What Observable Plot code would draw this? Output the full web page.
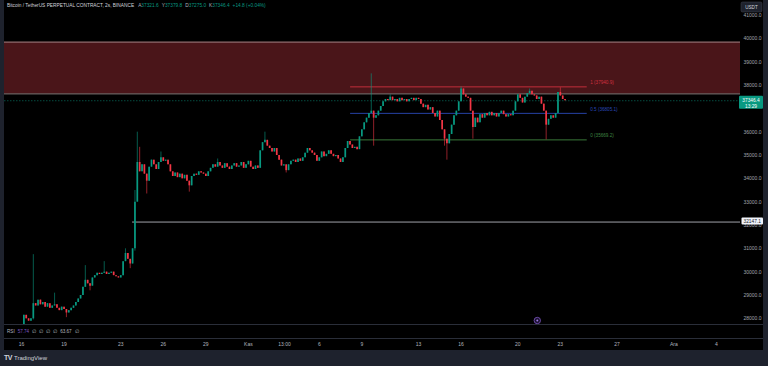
<!DOCTYPE html>
<html><head><meta charset="utf-8">
<script src="https://cdn.jsdelivr.net/npm/d3@7"></script>
<script src="https://cdn.jsdelivr.net/npm/@observablehq/plot@0.6"></script>
<style>
html,body{margin:0;padding:0;background:#1e222d;width:768px;height:366px;overflow:hidden;font-family:"Liberation Sans",Arial,sans-serif;}
#wrap{position:absolute;left:4px;top:0;}
#foot{position:absolute;left:4px;top:350px;height:16px;line-height:16px;color:#d1d4dc;font-size:6px;white-space:nowrap;}
#foot b{font-size:7px;letter-spacing:-0.5px;margin-right:2px;}
</style></head><body>
<div id="wrap"></div>
<div id="foot"><b>TV</b>TradingView</div>
<script>
// ---- data (2h chart shown, values read at 4h steps) ----
const symbolTitle = "Bitcoin / TetherUS PERPETUAL CONTRACT, 2s, BINANCE";
const ohlcLabels = ["A", "Y", "D", "K"];
const ohlcValues = ["37321.6", "37379.8", "37275.0", "37346.4"];
const changeText = "+14.8 (+0.04%)";
const firstOpen = 27700;
const closes = [
28150, 28000, 27900, 28000, 28650,
28550, 28800, 28600, 28700, 28500,
28650, 28450, 28550, 28600, 28450,
28350, 28500, 28400, 28250, 28350,
28450, 28550, 28700, 28850, 29000,
29350, 29650, 29500, 29400, 29750,
29850, 29950, 29900, 29950, 30000,
29900, 29950, 30000, 29850, 29800,
29750, 29850, 30450, 30800, 30550,
30350, 31000, 33000, 34700, 34300,
34600, 34200, 33900, 34500, 34800,
34600, 34400, 34700, 34900, 34750,
34800, 34600, 34300, 34100, 34250,
34050, 34200, 34000, 34150, 33900,
33700, 34100, 34200, 34150, 34300,
34250, 34200, 34100, 34300, 34450,
34600, 34500, 34700, 34550, 34450,
34650, 34500, 34400, 34550, 34650,
34500, 34550, 34700, 34450, 34600,
34750, 34500, 34400, 34550, 34450,
35200, 35550, 35650, 35400, 35300,
35150, 35300, 35000, 34800, 34550,
34600, 34350, 34600, 34750, 34800,
34700, 34850, 34750, 34900, 35100,
35300, 35200, 35100, 35000, 34750,
34900, 35150, 34950, 35050, 35200,
35050, 34950, 35000, 34850, 34700,
34900, 35300, 35600, 35450, 35300,
35350, 35250, 35800, 36100, 36400,
36600, 36800, 36900, 36600, 36700,
36900, 37100, 37300, 37400, 37350,
37500, 37350, 37400, 37300, 37450,
37350, 37400, 37300, 37400, 37450,
37350, 37450, 37400, 37200, 37050,
37150, 36950, 37050, 36800, 36650,
36900, 36500, 36100, 35700, 35500,
35900, 36300, 36700, 36900, 37300,
37850, 37600, 37500, 37450, 36900,
36200, 36600, 36400, 36750, 36600,
36800, 36700, 36850, 36700, 36800,
36650, 36800, 36900, 36750, 36650,
36750, 36700, 36900, 37300, 37600,
37450, 37250, 37500, 37650, 37750,
37600, 37550, 37400, 37500, 37200,
36900, 36300, 36550, 36700, 36600,
36800, 37700, 37550, 37400, 37346.4
];
// notable wicks: candle index, high, low (null = body edge)
const wickIdx  = [4,     13,    18,    26,    28,    34,    43,    45,    47,    48,    49,    52,    58,    70,    82,    102,   111,   147,   148,   155,   178,   179,   185,     190,   214,   221,     227];
const wickHigh = [30750, 29100, null,  30280, null,  30450, 31000, null,  33500, 36000, 35350, null,  35150, null,  34850, 36000, null,  38500, null,  37600, null,  null,  37940.9, null,  37850, null,    37900];
const wickLow  = [27950, null,  28050, null,  29200, null,  null,  30150, 30900, null,  null,  33350, null,  33430, null,  null,  34250, null,  35400, null,  35400, 34800, null,    35700, null,  35669.2, null];

const zoneLow = 37640, zoneHigh = 39860;
const fibLevels = [1, 0.5, 0];
const fibPrices = [37940.9, 36805.1, 35669.2];
const fibColors = ["#d0303f", "#2a48b8", "#3e8540"];
const fibStart = Date.UTC(2023, 10, 8, 5);
const fibEnd = Date.UTC(2023, 10, 24, 21, 30);
const supportPrice = 32147.1;
const supportStart = Date.UTC(2023, 9, 23, 20);
const lastPrice = 37346.4;
const countdown = "13:29";
const eventDates = [Date.UTC(2023, 10, 21, 9)];

// 37000.0 sits fully under the last-price label in the reference
const yTicks = [28000, 29000, 30000, 31000, 32000, 33000, 34000, 35000, 36000, 38000, 39000, 40000, 41000];
const xTickDates = [
  Date.UTC(2023, 9, 16), Date.UTC(2023, 9, 19), Date.UTC(2023, 9, 23), Date.UTC(2023, 9, 26), Date.UTC(2023, 9, 29),
  Date.UTC(2023, 10, 1), Date.UTC(2023, 10, 3, 13), Date.UTC(2023, 10, 6), Date.UTC(2023, 10, 9), Date.UTC(2023, 10, 13),
  Date.UTC(2023, 10, 16), Date.UTC(2023, 10, 20), Date.UTC(2023, 10, 23), Date.UTC(2023, 10, 27), Date.UTC(2023, 11, 1),
  Date.UTC(2023, 11, 4)];
const xTickLabels = ["16", "19", "23", "26", "29", "Kas", "13:00", "6", "9", "13", "16", "20", "23", "27", "Ara", "4"];
const rsiName = "RSI", rsiValue = "57.74", rsiRest = ["∅", "∅", "∅", "∅", "63.67", "∅"];

// ---- build ----
const UP = "#089981", DOWN = "#f23645";
const t0 = Date.UTC(2023, 9, 16, 4), step = 4 * 3600e3;
const candles = closes.map((c, i) => {
  const o = i ? closes[i - 1] : firstOpen;
  const k = wickIdx.indexOf(i);
  const hi = k >= 0 && wickHigh[k] != null ? wickHigh[k] : Math.max(o, c);
  const lo = k >= 0 && wickLow[k] != null ? wickLow[k] : Math.min(o, c);
  return {date: new Date(t0 + i * step), open: o, close: c, high: hi, low: lo, col: c >= o ? UP : DOWN};
});
const fib = fibLevels.map((l, i) => ({level: l, price: fibPrices[i], color: fibColors[i], start: new Date(fibStart), end: new Date(fibEnd)}));
const xDomain = [new Date(Date.UTC(2023, 9, 14, 19, 13)), new Date(Date.UTC(2023, 11, 5, 16, 55))];
const labelMap = new Map(xTickDates.map((d, i) => [d, xTickLabels[i]]));

const chart = Plot.plot({
  width: 759, height: 350,
  marginLeft: 0, marginRight: 23, marginTop: 0, marginBottom: 26,
  style: {background: "#000", color: "#b2b5be", fontFamily: "Liberation Sans, Arial, sans-serif", fontSize: "5px", overflow: "visible"},
  x: {type: "utc", domain: xDomain},
  y: {domain: [27756, 41643]},
  marks: [
    Plot.rect([{lo: zoneLow, hi: zoneHigh}], {y1: "lo", y2: "hi", fill: "#4a1519"}),
    Plot.ruleY([zoneLow, zoneHigh], {stroke: "#d8c8c8", strokeOpacity: 0.75, strokeWidth: 0.8}),
    Plot.ruleY([lastPrice], {stroke: UP, strokeOpacity: 0.7, strokeDasharray: "1.5,1.5", strokeWidth: 0.7}),
    Plot.ruleY([{p: supportPrice, s: new Date(supportStart), e: xDomain[1]}], {y: "p", x1: "s", x2: "e", stroke: "#c9ccd4", strokeWidth: 0.8}),
    Plot.ruleY(fib, {y: "price", x1: "start", x2: "end", stroke: "color", strokeWidth: 0.9}),
    Plot.text(fib, {x: "end", y: "price", text: d => `${d.level} (${d.price.toFixed(1)})`, fill: "color", textAnchor: "start", dx: 3, dy: -4, fontSize: 4.6}),
    Plot.ruleX(candles, {x: "date", y1: "low", y2: "high", stroke: "col", strokeWidth: 0.6, clip: true}),
    Plot.ruleX(candles, {x: "date", y1: "open", y2: "close", stroke: "col", strokeWidth: 1.7, clip: true}),
    Plot.dot(eventDates.map(d => new Date(d)), {x: d => d, frameAnchor: "bottom", dy: -4, r: 3.2, stroke: "#7e57c2", strokeWidth: 0.8, fill: "#1a1030"}),
    Plot.dot(eventDates.map(d => new Date(d)), {x: d => d, frameAnchor: "bottom", dy: -4, r: 1, fill: "#9c7ae0"}),
    Plot.axisY({anchor: "right", ticks: yTicks, tickSize: 0, tickPadding: 3, tickFormat: d => d.toFixed(1), fontSize: 5, color: "#a3a6af"}),
    Plot.axisX({anchor: "bottom", ticks: xTickDates.map(d => new Date(d)), tickSize: 0, tickPadding: 18, tickFormat: d => labelMap.get(+d), fontSize: 5, color: "#b2b5be"})
  ]
});
document.getElementById("wrap").appendChild(chart);

// ---- overlays drawn with the chart's own y scale ----
const svg = d3.select(chart);
const ys = chart.scale("y");
const W = 759;
// pane separators
[324, 338].forEach(yy => svg.append("line").attr("x1", 0).attr("x2", W).attr("y1", yy + 0.5).attr("y2", yy + 0.5).attr("stroke", "#2a2e39").attr("stroke-width", 1));
// title
const tt = svg.append("text").attr("x", 3).attr("y", 7).attr("text-anchor", "start").attr("font-size", 4.8).attr("fill", "#d1d4dc");
tt.append("tspan").text(symbolTitle);
ohlcLabels.forEach((l, i) => {
  tt.append("tspan").attr("dx", i ? 3 : 4).attr("fill", "#b2b5be").text(l);
  tt.append("tspan").attr("fill", UP).text(ohlcValues[i]);
});
tt.append("tspan").attr("dx", 3).attr("fill", UP).text(changeText);
// RSI row
const rt = svg.append("text").attr("x", 3).attr("y", 333).attr("text-anchor", "start").attr("font-size", 4.6).attr("fill", "#b2b5be");
rt.append("tspan").text(rsiName);
rt.append("tspan").attr("dx", 3).attr("fill", "#7e57c2").text(rsiValue);
rsiRest.forEach(s => rt.append("tspan").attr("dx", 3).text(s));
// USDT button
svg.append("rect").attr("x", 737).attr("y", 2).attr("width", 21).attr("height", 10).attr("rx", 1.5).attr("fill", "#1e222d").attr("stroke", "#434651").attr("stroke-width", 0.5);
svg.append("text").attr("x", 747.5).attr("y", 8.7).attr("text-anchor", "middle").attr("font-size", 4.6).attr("fill", "#d1d4dc").text("USDT");
// last price label
const yl = ys.apply(lastPrice);
svg.append("rect").attr("x", 735).attr("y", yl - 4.5).attr("width", 24).attr("height", 13).attr("rx", 1).attr("fill", UP);
svg.append("text").attr("x", 747).attr("y", yl + 1.8).attr("text-anchor", "middle").attr("font-size", 4.8).attr("fill", "#fff").text(lastPrice.toFixed(1));
svg.append("text").attr("x", 747).attr("y", yl + 7.3).attr("text-anchor", "middle").attr("font-size", 4.8).attr("fill", "#fff").text(countdown);
// support price label
const ysp = ys.apply(supportPrice);
svg.append("rect").attr("x", 737.5).attr("y", ysp - 4).attr("width", 21.5).attr("height", 7).attr("rx", 1).attr("fill", "#f0f3fa");
svg.append("text").attr("x", 748.2).attr("y", ysp + 1.7).attr("text-anchor", "middle").attr("font-size", 4.8).attr("fill", "#131722").text(supportPrice.toFixed(1));
</script>
</body></html>
